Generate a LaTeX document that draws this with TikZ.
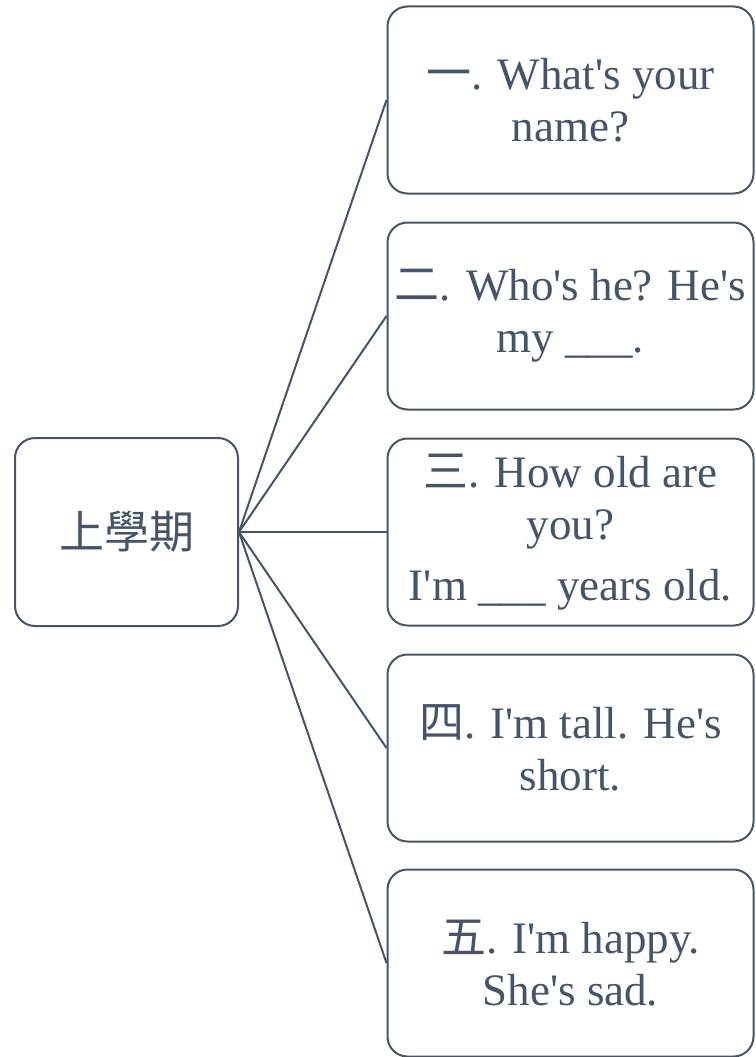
\documentclass[tikz,border=0pt]{standalone}
\usepackage{fontspec}
\setmainfont{Liberation Serif}
\newfontfamily\cjk{Noto Sans CJK TC}
\definecolor{slate}{HTML}{44546A}
\newcommand{\q}{\textquotesingle}
\tikzset{
  box/.style={draw=slate, line width=2pt, rounded corners=20pt, text=slate,
    align=center, inner sep=0pt, minimum width=366pt, minimum height=187pt},
}

\begin{document}
\begin{tikzpicture}[x=1pt,y=-1pt, font=\fontsize{45}{52}\selectfont, line width=2pt]
          \useasboundingbox (0,0) rectangle (755,1057);
          \node[box, minimum width=223pt, minimum height=188pt] (s) at (126.5,532) {{\cjk 上學期}};
          \node[box] (a) at (570.5,100) {{\cjk 一}. What\q s your\\name?};
          \node[box] (b) at (570.5,316) {{\cjk 二}. Who\q s he? He\q s\\my \_\_\_.};
          \node[box] (c) at (570.5,532) {{\cjk 三}. How old are\\you?\\[9pt]I\q m \_\_\_ years old.};
          \node[box] (d) at (570.5,748) {{\cjk 四}. I\q m tall. He\q s\\short.};
          \node[box] (e) at (570.5,963) {{\cjk 五}. I\q m happy.\\She\q s sad.};


          \draw[slate] (s.east) -- (a.west);
          \draw[slate] (s.east) -- (b.west);
          \draw[slate] (s.east) -- (c.west);
          \draw[slate] (s.east) -- (d.west);
          \draw[slate] (s.east) -- (e.west);

        \end{tikzpicture}
\end{document}
